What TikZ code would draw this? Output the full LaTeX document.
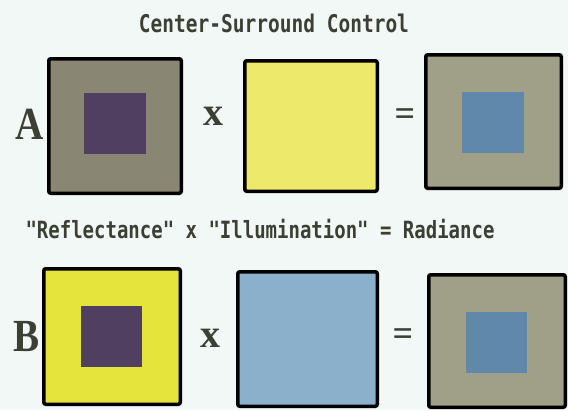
\documentclass[tikz,border=0pt]{standalone}
\usepackage{fontspec}
\setmainfont{Liberation Serif}
\newfontfamily\monofnt{DejaVu Sans Mono}
\definecolor{bgc}{HTML}{F2F8F5}
\definecolor{inkc}{HTML}{3C3F34}
\definecolor{grayA}{HTML}{8A8674}
\definecolor{grayR}{HTML}{A09F88}
\definecolor{purp}{HTML}{503F60}
\definecolor{yelA}{HTML}{EDE96A}
\definecolor{yelB}{HTML}{E4E43C}
\definecolor{blueC}{HTML}{6088AA}
\definecolor{blueL}{HTML}{8AB0CC}
\tikzset{
  outerbox/.style={draw=black, line width=3.5pt, rounded corners=2pt, inner sep=0pt},
  innerbox/.style={inner sep=0pt},
  rowlabel/.style={font=\fontsize{46}{46}\selectfont\bfseries, text=inkc, inner sep=0pt, xscale=0.85},
  opx/.style={font=\fontsize{40}{40}\selectfont\bfseries, text=inkc, inner sep=0pt},
  opeq/.style={font=\fontsize{36}{36}\selectfont\bfseries, text=inkc, inner sep=0pt},
  heading/.style={font=\monofnt\bfseries\fontsize{19.5}{20}\selectfont, text=inkc, inner sep=0pt},
}
\begin{document}
\begin{tikzpicture}[x=1pt, y=-1pt]
\fill[bgc] (0,0) rectangle (568,410);
\useasboundingbox (0,0) rectangle (568,410);
% title
\node[heading] (title) at (274,23) {\scalebox{1}[1.25]{Center-Surround Control}};
% row A
\node[rowlabel] (la) at (30,124) {A};
\node[outerbox, fill=grayA, minimum width=132.5pt, minimum height=134.5pt] (a1) at (115,126) {};
\node[innerbox, fill=purp, minimum width=62pt, minimum height=61pt] (a1c) at (115,123.5) {};
\node[opx] (xa) at (213,116) {x};
\node[outerbox, fill=yelA, minimum width=132.5pt, minimum height=130.5pt] (a2) at (311,126) {};
\node[opeq] (ea) at (405,117) {=};
\node[outerbox, fill=grayR, minimum width=135.5pt, minimum height=133.5pt] (a3) at (493.5,121.5) {};
\node[innerbox, fill=blueC, minimum width=62pt, minimum height=61pt] (a3c) at (493,122.5) {};
% subtitle
\node[heading, font=\monofnt\bfseries\fontsize{19}{20}\selectfont] (sub) at (260,229) {\scalebox{1}[1.25]{"Reflectance" x "Illumination" = Radiance}};
% row B
\node[rowlabel] (lb) at (27,337) {B};
\node[outerbox, fill=yelB, minimum width=136.5pt, minimum height=135.5pt] (b1) at (112,336.5) {};
\node[innerbox, fill=purp, minimum width=61pt, minimum height=61pt] (b1c) at (111.5,336.5) {};
\node[opx] (xb) at (210,338) {x};
\node[outerbox, fill=blueL, minimum width=139.5pt, minimum height=134.5pt] (b2) at (307.5,339) {};
\node[opeq] (eb) at (403,337) {=};
\node[outerbox, fill=grayR, minimum width=136.5pt, minimum height=132.5pt] (b3) at (497,341) {};
\node[innerbox, fill=blueC, minimum width=61pt, minimum height=61pt] (b3c) at (496.5,342.5) {};
\end{tikzpicture}
\end{document}
